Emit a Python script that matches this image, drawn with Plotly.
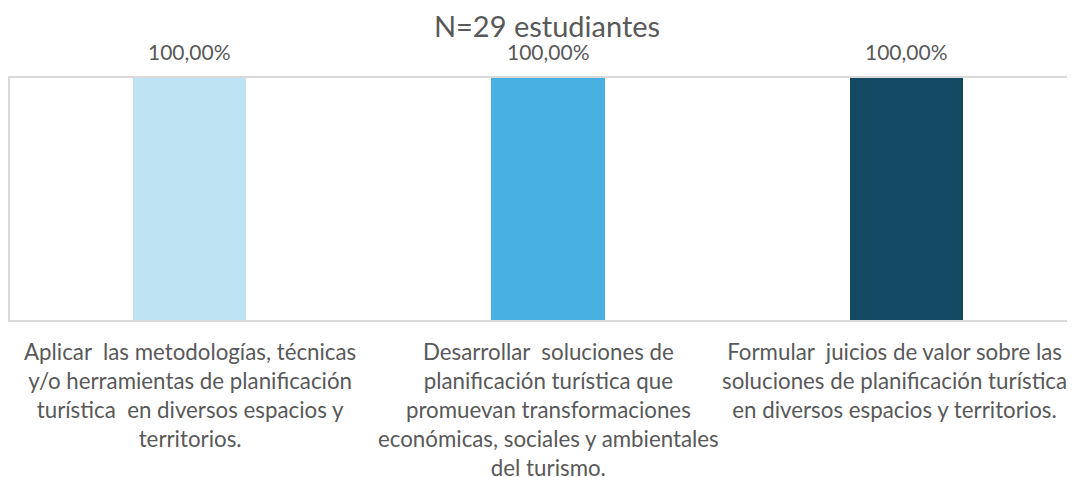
import plotly.graph_objects as go

categories = [
    "Aplicar  las metodologías, técnicas<br>y/o herramientas de planificación<br>turística  en diversos espacios y<br>territorios.",
    "Desarrollar  soluciones de<br>planificación turística que<br>promuevan transformaciones<br>económicas, sociales y ambientales<br>del turismo.",
    "Formular  juicios de valor sobre las<br>soluciones de planificación turística<br>en diversos espacios y territorios.",
]
values = [1.0, 1.0, 1.0]
value_labels = ["100,00%", "100,00%", "100,00%"]
colors = ["#BEE4F3", "#48B0E0", "#134963"]
title_text = "N=29 estudiantes"

FONT = "Lato"
GRAY = "#595959"
x_idx = list(range(len(categories)))

fig = go.Figure()
fig.add_trace(go.Bar(
    x=x_idx, y=values, width=0.316,
    marker=dict(color=colors, line=dict(width=0)),
    hoverinfo="skip", showlegend=False,
))

for i, (v, t) in enumerate(zip(values, value_labels)):
    fig.add_annotation(x=i, y=v, xref="x", yref="y", text=t, showarrow=False,
                       yanchor="bottom", yshift=12,
                       font=dict(family=FONT, size=21, color=GRAY))

# category labels (kept inside the visible chart area like the original)
n = len(categories)
for i, c in enumerate(categories):
    fig.add_annotation(x=i, y=0, xref="x", yref="paper", text=c, showarrow=False,
                       xanchor="center", yanchor="top", align="center",
                       yshift=-16, xshift=(-12 if i == n - 1 else 0),
                       font=dict(family=FONT, size=22.3, color=GRAY))

fig.update_layout(
    width=1075, height=477,
    margin=dict(l=2, r=0, t=70, b=165),
    paper_bgcolor="white", plot_bgcolor="white",
    font=dict(family=FONT, color=GRAY),
    title=dict(text=title_text, x=0.5014, xref="container", xanchor="center",
               y=1 - 19 / 477, yref="container", yanchor="middle",
               font=dict(family=FONT, size=29, color=GRAY)),
    bargap=0,
)
fig.update_xaxes(
    tickmode="array", tickvals=x_idx, showticklabels=False,
    range=[-0.5014, 2.493], showline=True, mirror=True,
    linecolor="#D9D9D9", linewidth=1.5, showgrid=False, zeroline=False,
    ticks="", automargin=False,
)
fig.update_yaxes(
    range=[0, 1], showline=True, mirror=False, linecolor="#D9D9D9",
    linewidth=1.5, showgrid=False, zeroline=False, showticklabels=False,
    ticks="", automargin=False,
)

fig.write_html("out.html")
